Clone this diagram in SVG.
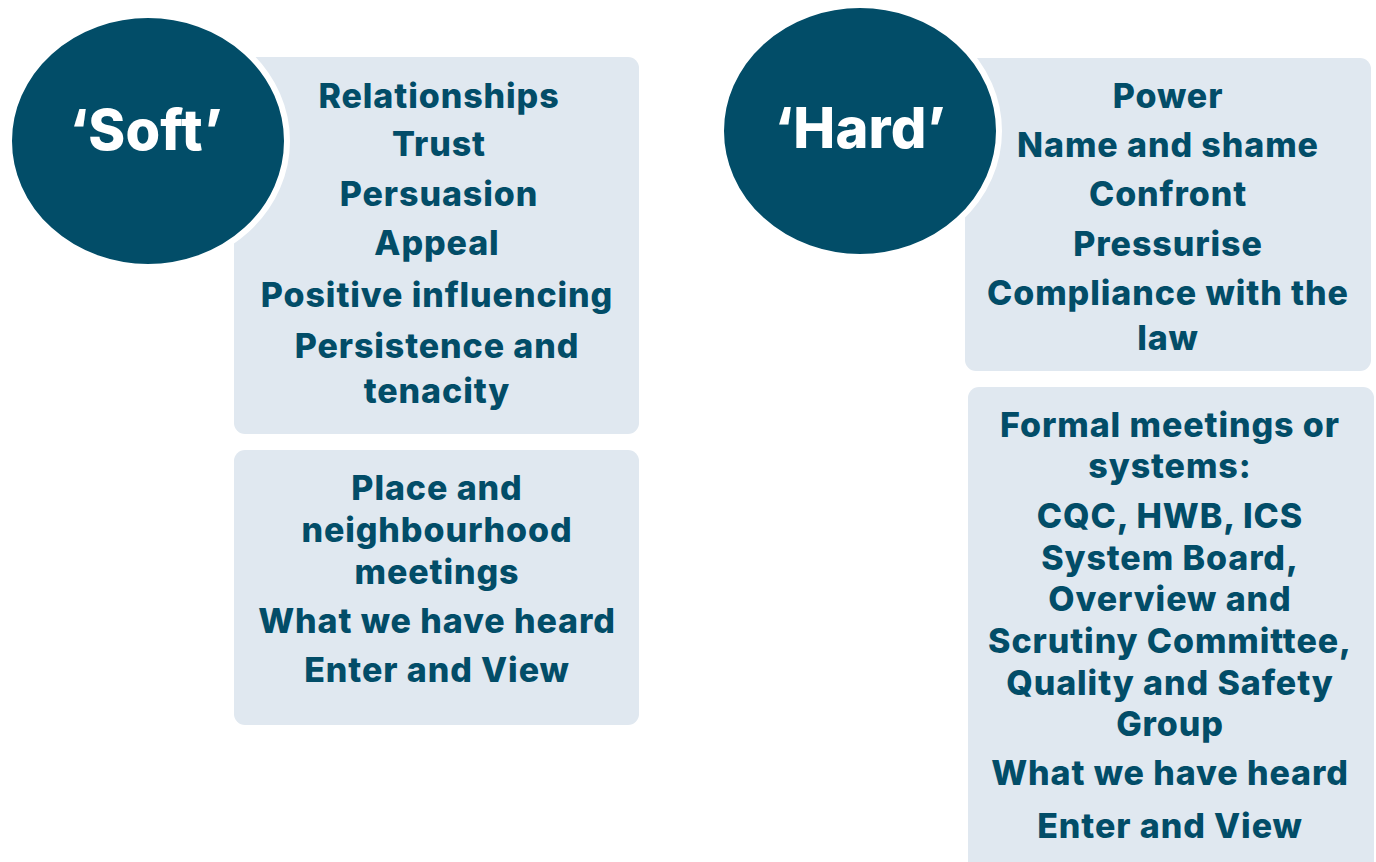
<svg xmlns="http://www.w3.org/2000/svg" width="1376" height="862" viewBox="0 0 1376 862">
<style>
.box{fill:#E0E8F0}
.circ{fill:#024D68;stroke:#FFFFFF;stroke-width:6}
.t{font-family:Inter,"Open Sans","Liberation Sans",sans-serif;font-weight:800;font-size:34px;letter-spacing:0.9px;fill:#024D68;text-anchor:middle}
.ct{font-family:Inter,"Open Sans","Liberation Sans",sans-serif;font-weight:800;font-size:56px;letter-spacing:0.2px;fill:#FFFFFF;text-anchor:middle}
</style>
<rect width="1376" height="862" fill="#FFFFFF"/>
<g id="soft-box1">
<rect class="box" x="234" y="57" width="405" height="377" rx="11"/>
<text class="t" x="439" y="108">Relationships</text>
<text class="t" x="439" y="156">Trust</text>
<text class="t" x="439" y="206">Persuasion</text>
<text class="t" x="437" y="255">Appeal</text>
<text class="t" x="437" y="307">Positive influencing</text>
<text class="t" x="437" y="358">Persistence and</text>
<text class="t" x="437" y="403">tenacity</text>
</g>
<g id="soft-box2">
<rect class="box" x="234" y="450" width="405" height="275" rx="11"/>
<text class="t" x="437" y="500">Place and</text>
<text class="t" x="437" y="542">neighbourhood</text>
<text class="t" x="437" y="584">meetings</text>
<text class="t" x="437" y="633">What we have heard</text>
<text class="t" x="437" y="682">Enter and View</text>
</g>
<g id="soft-circle">
<ellipse class="circ" cx="148" cy="141" rx="139" ry="126"/>
<text class="ct" x="146" y="150">‘Soft’</text>
</g>
<g id="hard-box1">
<rect class="box" x="965" y="58" width="406" height="313" rx="11"/>
<text class="t" x="1168" y="108">Power</text>
<text class="t" x="1168" y="157">Name and shame</text>
<text class="t" x="1168" y="206">Confront</text>
<text class="t" x="1168" y="256">Pressurise</text>
<text class="t" x="1168" y="305">Compliance with the</text>
<text class="t" x="1168" y="350">law</text>
</g>
<g id="hard-box2">
<rect class="box" x="968" y="387" width="406" height="490" rx="11"/>
<text class="t" x="1170" y="437">Formal meetings or</text>
<text class="t" x="1170" y="478">systems:</text>
<text class="t" x="1170" y="528">CQC, HWB, ICS</text>
<text class="t" x="1170" y="570">System Board,</text>
<text class="t" x="1170" y="611">Overview and</text>
<text class="t" x="1170" y="653">Scrutiny Committee,</text>
<text class="t" x="1170" y="695">Quality and Safety</text>
<text class="t" x="1170" y="736">Group</text>
<text class="t" x="1170" y="785">What we have heard</text>
<text class="t" x="1170" y="838">Enter and View</text>
</g>
<g id="hard-circle">
<ellipse class="circ" cx="860" cy="131" rx="139" ry="126"/>
<text class="ct" x="860" y="148">‘Hard’</text>
</g>
<g id="connectors"/>
</svg>
